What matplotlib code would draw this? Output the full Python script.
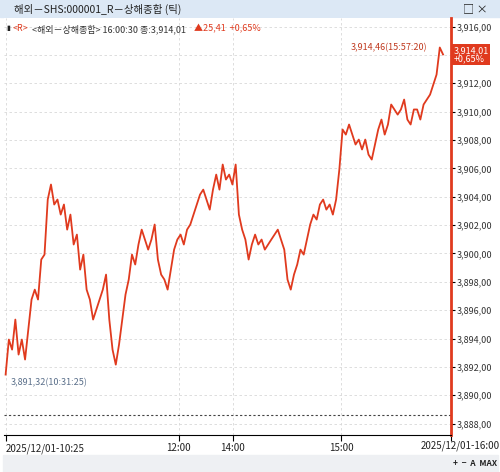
import matplotlib
matplotlib.use("Agg")
import matplotlib.pyplot as plt
import numpy as np
from matplotlib.patches import Rectangle

plt.rcParams['font.family'] = ['Noto Sans CJK KR', 'DejaVu Sans']

# price path (pixel-y converted)
ys = [375,340,350,320,355,340,360,330,300,290,300,260,255,200,185,205,200,215,205,230,215,245,235,270,255,290,300,320,310,300,290,275,320,350,365,345,320,295,280,255,265,245,230,240,250,240,225,260,275,280,290,270,250,240,235,245,230,225,215,205,195,190,200,210,190,175,190,165,180,175,185,165,215,230,240,260,245,235,245,240,250,245,240,235,230,240,250,280,290,275,265,250,255,240,225,215,220,205,200,210,205,215,200,170,130,135,125,135,145,140,150,140,155,160,145,130,120,135,125,105,110,115,110,100,120,125,110,110,120,105,100,95,85,75,48,55]
prices = [round(3916 - (y - 27) / 14.18, 2) for y in ys]
prev_close = 3888.60
last = 3914.01
y_ticks = [3888, 3890, 3892, 3894, 3896, 3898, 3900, 3902, 3904, 3906, 3908, 3910, 3912, 3914, 3916]
time_labels = ["2025/12/01-10:25", "12:00", "14:00", "15:00", "2025/12/01-16:00"]
time_frac = [0.0, 0.389, 0.51, 0.754, 1.0]

def fmt(v):
    return f"{v:,.2f}".replace('.', ',')

fig = plt.figure(figsize=(5, 4.72), dpi=100)
fig.patch.set_facecolor('white')
fig.add_artist(Rectangle((0, 1 - 17/472), 1, 17/472, transform=fig.transFigure, color='#dce8f5', zorder=0))
fig.text(0.028, 1 - 9/472, "해외－SHS:000001_R－상해종합 (틱)", fontsize=7.5, va='center', color='#222')
fig.text(0.975, 1 - 9/472, "□ ×", fontsize=8, va='center', ha='right', color='#222')
fig.add_artist(Rectangle((0.005, 0), 0.99, 17/472, transform=fig.transFigure, color='#eef0f3', zorder=0))
fig.text(0.995, 8/472, "+  −  A  MAX", fontsize=6, va='center', ha='right', color='#222', weight='bold')

ax = fig.add_axes([4/500, 1 - 435/472, 447/500, 417/472])
n = len(prices)
xs = np.arange(n)
span = (n - 1) * 447 / 439
ax.set_xlim(-0.5, span)
ax.set_ylim(3887.2, 3916.6)
ax.plot(xs, prices, color='#e03a1e', lw=1.3)
ax.axhline(prev_close, color='#444', ls=(0, (2, 2)), lw=0.8)
ax.yaxis.tick_right()
ax.set_yticks(y_ticks)
ax.set_yticklabels([fmt(v) for v in y_ticks], fontsize=6.5, color='#333')
ax.tick_params(axis='y', length=3, pad=1)
xt = [f * span for f in time_frac]
ax.set_xticks(xt)
ax.set_xticklabels(time_labels[:-1] + [""], fontsize=7, color='#222')
ax.get_xticklabels()[0].set_ha('left')
ax.text(1.11, -0.012, time_labels[-1], transform=ax.transAxes, fontsize=7, color='#222', ha='right', va='top')
ax.tick_params(axis='x', length=4, pad=2)
ax.grid(True, color='#d8d8d8', ls=(0, (3, 3)), lw=0.6)
for s in ['top', 'left']:
    ax.spines[s].set_visible(False)
ax.spines['right'].set_color('#e03a1e')
ax.spines['right'].set_linewidth(2)

ax.text(0.005, 0.985, "▮", transform=ax.transAxes, fontsize=5, va='top', color='#222')
ax.text(0.02, 0.985, "<R>", transform=ax.transAxes, fontsize=6.5, va='top', color='#e03a1e')
ax.text(0.062, 0.985, "<해외－상해종합> 16:00:30 종:3,914,01", transform=ax.transAxes, fontsize=6.5, va='top', color='#333')
ax.text(0.425, 0.985, "▲25,41  +0,65%", transform=ax.transAxes, fontsize=6.5, va='top', color='#e03a1e')
imax = int(np.argmax(prices)); imin = int(np.argmin(prices))
ax.annotate("3,914,46(15:57:20)", (imax, prices[imax]), xytext=(imax - 4, prices[imax]), ha='right', va='center', fontsize=6.5, color='#c0391e')
ax.annotate("3,891,32(10:31:25)", (imin, prices[imin]), xytext=(imin + 1.5, prices[imin] - 0.6), ha='left', va='center', fontsize=6.5, color='#5a6f8a')
ax.text(1.005, (last - 3887.2) / (3916.6 - 3887.2), "3,914,01\n+0,65%", transform=ax.transAxes, fontsize=6.5, color='white', va='center', ha='left', linespacing=0.9, zorder=5,
        bbox=dict(boxstyle='square,pad=0.2', fc='#e03a1e', ec='none'))
ax.get_yticklabels()[y_ticks.index(3914)].set_visible(False)
fig.savefig("out.png", dpi=100)
